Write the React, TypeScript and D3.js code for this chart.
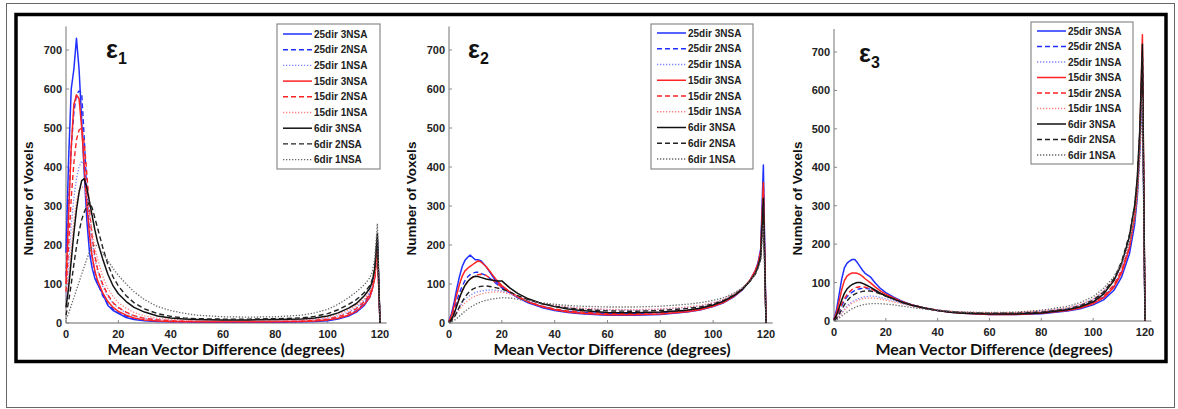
import React from "react";
import * as d3 from "d3";

// shared x sample positions (degrees)
const X = [0,1,2,3,4,5,6,7,8,9,10,11,12,14,16,18,20,23,26,30,35,40,45,50,60,70,80,90,95,100,104,108,111,114,116,117,118,119,120];

const seriesNames = ["25dir 3NSA","25dir 2NSA","25dir 1NSA","15dir 3NSA","15dir 2NSA","15dir 1NSA","6dir 3NSA","6dir 2NSA","6dir 1NSA"];
const yTicks = [0,100,200,300,400,500,600,700];
const xTicks = [0,20,40,60,80,100,120];
const panelLabels = ["1","2","3"];

// ε1
const e1_25_3 = [180,420,600,650,730,650,520,380,260,180,140,115,100,75,45,32,25,14,9,6,4,3,3,2,2,2,2,3,4,6,10,18,28,45,65,85,120,215,0];
const e1_25_2 = [120,300,450,540,585,595,590,470,330,230,170,130,105,70,48,35,26,17,11,7,5,4,3,3,3,3,3,4,5,8,12,20,32,50,70,90,125,205,0];
const e1_25_1 = [60,150,250,320,370,400,415,405,350,270,210,165,135,95,68,50,38,26,18,12,8,6,5,5,5,5,5,6,8,12,18,28,40,58,78,95,130,200,0];
const e1_15_3 = [100,280,450,560,585,575,500,400,300,225,170,135,110,78,55,40,30,20,13,8,5,4,3,3,3,3,3,4,5,8,12,20,30,48,65,85,115,190,0];
const e1_15_2 = [80,200,320,410,470,495,500,460,380,290,220,175,140,100,72,52,40,28,19,12,8,6,5,4,4,4,4,5,7,10,16,25,37,55,72,90,120,185,0];
const e1_15_1 = [40,110,190,260,310,340,350,345,320,280,235,195,165,120,88,68,52,38,27,18,12,9,7,6,6,6,6,8,10,15,22,33,45,62,80,95,125,180,0];
const e1_6_3 = [40,90,160,230,290,335,365,370,345,310,275,240,210,165,125,95,75,55,40,28,18,13,10,9,8,8,9,10,13,18,26,38,50,70,88,105,140,230,0];
const e1_6_2 = [20,55,100,150,195,235,265,285,300,310,295,270,245,195,150,118,95,70,52,36,24,17,13,11,10,10,11,13,17,24,34,48,60,78,95,110,140,220,0];
const e1_6_1 = [10,25,45,65,85,105,125,145,165,182,195,200,198,180,160,140,122,100,80,60,42,32,25,20,16,15,16,20,26,35,48,65,80,98,115,130,165,255,0];

// ε2
const e2_25_3 = [5,25,55,90,120,145,160,168,174,168,162,162,160,145,125,105,92,78,65,52,40,32,27,24,20,20,22,28,33,42,52,68,85,110,135,155,190,405,0];
const e2_25_2 = [3,15,35,58,78,95,108,118,124,128,130,130,128,122,112,100,90,78,66,54,43,35,30,27,24,24,26,31,36,45,55,70,86,110,133,150,180,360,0];
const e2_25_1 = [2,8,18,30,42,52,60,66,71,75,78,80,82,84,85,84,82,76,68,59,50,44,40,37,34,33,35,40,44,51,60,74,88,108,128,145,170,330,0];
const e2_15_3 = [4,20,45,75,100,120,133,140,145,150,155,159,157,145,128,110,96,80,67,54,42,34,28,25,21,21,23,29,34,43,53,69,86,110,135,152,185,360,0];
const e2_15_2 = [3,12,28,48,66,82,95,105,112,117,121,124,125,122,113,102,92,80,68,55,44,36,31,28,25,25,27,32,37,46,56,71,87,110,132,150,178,340,0];
const e2_15_1 = [2,7,15,25,35,44,51,57,62,66,69,72,74,77,79,80,79,75,68,60,51,45,41,38,35,34,36,41,45,52,61,75,89,108,128,143,168,310,0];
const e2_6_3 = [2,10,25,45,65,82,96,106,113,118,120,119,117,113,110,108,108,90,76,62,50,42,36,32,27,26,28,33,38,46,56,71,86,108,128,145,172,320,0];
const e2_6_2 = [1,6,15,28,42,55,66,75,82,87,90,92,94,95,93,90,87,80,70,60,50,43,38,35,31,30,32,37,41,49,58,72,87,108,126,142,165,300,0];
const e2_6_1 = [1,3,7,12,18,24,30,35,40,44,48,51,54,58,61,63,65,64,61,57,52,48,45,43,41,41,43,48,52,58,65,77,90,108,125,140,160,250,0];

// ε3
const e3_25_3 = [5,30,70,110,138,150,156,160,160,152,142,132,124,115,98,84,74,62,52,42,33,27,23,20,17,17,19,26,32,42,55,80,115,175,250,320,450,650,0];
const e3_25_2 = [2,10,25,40,53,63,70,75,79,82,84,85,85,83,78,72,66,58,50,42,34,28,24,21,19,19,22,29,36,47,62,90,128,190,265,335,460,680,0];
const e3_25_1 = [1,5,13,22,31,39,45,50,54,57,60,62,63,65,64,61,58,53,47,40,33,28,25,23,21,21,25,33,42,56,76,105,140,200,270,330,440,620,0];
const e3_15_3 = [4,22,52,82,105,117,122,125,125,124,121,116,110,100,88,78,70,60,51,42,33,27,23,20,17,17,20,27,34,45,60,88,125,190,270,345,480,745,0];
const e3_15_2 = [2,12,28,45,58,68,76,82,86,88,89,89,88,84,78,72,66,58,50,42,34,28,24,21,19,19,22,29,36,48,64,94,132,195,270,340,470,700,0];
const e3_15_1 = [1,5,12,20,28,35,41,46,50,53,56,58,59,60,59,57,54,50,45,39,33,28,25,23,21,22,26,34,43,57,78,108,142,200,265,325,430,600,0];
const e3_6_3 = [3,15,35,55,72,83,90,95,98,100,100,98,95,88,80,72,65,57,49,41,33,27,23,20,18,18,21,29,37,50,70,105,150,220,300,370,500,720,0];
const e3_6_2 = [1,7,18,30,42,52,60,66,70,73,75,77,78,78,75,70,65,58,50,42,34,28,24,22,20,20,23,31,40,54,75,110,155,225,300,365,490,690,0];
const e3_6_1 = [1,3,8,13,18,23,28,32,35,38,40,42,43,45,45,45,44,42,39,35,31,27,25,23,22,23,28,38,48,63,85,115,150,205,265,320,420,580,0];

const panelSeries = [
  [e1_25_3, e1_25_2, e1_25_1, e1_15_3, e1_15_2, e1_15_1, e1_6_3, e1_6_2, e1_6_1],
  [e2_25_3, e2_25_2, e2_25_1, e2_15_3, e2_15_2, e2_15_1, e2_6_3, e2_6_2, e2_6_1],
  [e3_25_3, e3_25_2, e3_25_1, e3_15_3, e3_15_2, e3_15_1, e3_6_3, e3_6_2, e3_6_1],
];

const BLUE = "#1f2fff";
const RED = "#ff2323";
const styles = [
  { c: BLUE, d: "none", w: 1.5 },
  { c: BLUE, d: "5,3", w: 1.4 },
  { c: "#7f86ff", d: "1.3,1.7", w: 1.3 },
  { c: RED, d: "none", w: 1.5 },
  { c: RED, d: "5,3", w: 1.4 },
  { c: "#ff8282", d: "1.3,1.7", w: 1.3 },
  { c: "#111", d: "none", w: 1.5 },
  { c: "#222", d: "5,3", w: 1.4 },
  { c: "#666", d: "1.3,1.7", w: 1.3 },
];

// layout of each panel (pixel geometry)
const layouts = [
  { x0: 66, x120: 380, y0: 323, y700: 50, lgX: 277, lgY: 24, lgW: 103, lgH: 145, row0: 34, rowH: 15.7, ex: 106, ey: 58, ylx: 33, xlx: 226 },
  { x0: 449, x120: 766, y0: 323, y700: 50, lgX: 651, lgY: 24, lgW: 102, lgH: 145, row0: 33, rowH: 15.75, ex: 468, ey: 58, ylx: 416, xlx: 612 },
  { x0: 834, x120: 1145, y0: 321, y700: 52, lgX: 1031, lgY: 22, lgW: 102, lgH: 142, row0: 31, rowH: 15.5, ex: 859, ey: 62, ylx: 802, xlx: 994 },
];

const ARIAL = "'Liberation Sans', Arial, sans-serif";

function Panel({ idx }: { idx: number }) {
  const L = layouts[idx];
  const x = d3.scaleLinear().domain([0, 120]).range([L.x0, L.x120]);
  const y = d3.scaleLinear().domain([0, 700]).range([L.y0, L.y700]);
  const xEnd = x(122.5);
  const yTop = y(760);
  const line = d3
    .line<number>()
    .x((_, i) => x(X[i]))
    .y((v) => y(v));
  return (
    <g>
      {/* axes */}
      <line x1={L.x0} x2={L.x0} y1={yTop} y2={L.y0} stroke="#8a8a8a" strokeWidth={1.2} />
      <line x1={L.x0} x2={xEnd} y1={L.y0} y2={L.y0} stroke="#666" strokeWidth={1.2} />
      {yTicks.map((t) => (
        <g key={"y" + t}>
          <line x1={L.x0} x2={L.x0 + 3} y1={y(t)} y2={y(t)} stroke="#888" />
          <text x={L.x0 - 4} y={y(t) + 4} textAnchor="end" fontFamily={ARIAL} fontSize={11} fontWeight="bold" fill="#222">
            {t}
          </text>
        </g>
      ))}
      {xTicks.map((t) => (
        <g key={"x" + t}>
          <line x1={x(t)} x2={x(t)} y1={L.y0} y2={L.y0 - 3} stroke="#888" />
          <text x={x(t)} y={L.y0 + 15} textAnchor="middle" fontFamily={ARIAL} fontSize={11} fontWeight="bold" fill="#222">
            {t}
          </text>
        </g>
      ))}
      {/* series */}
      {panelSeries[idx].map((s, i) => (
        <path
          key={i}
          d={line(s) || ""}
          fill="none"
          stroke={styles[i].c}
          strokeWidth={styles[i].w}
          strokeDasharray={styles[i].d}
          strokeLinejoin="round"
        />
      ))}
      {/* epsilon label */}
      <text x={L.ex} y={L.ey} fontFamily={ARIAL} fontSize={25} fontWeight="bold" fill="#111">
        ε
        <tspan fontSize={16} dy={6}>{panelLabels[idx]}</tspan>
      </text>
      {/* legend */}
      <rect x={L.lgX} y={L.lgY} width={L.lgW} height={L.lgH} fill="#fff" stroke="#8a8a8a" strokeWidth={1.2} />
      {seriesNames.map((n, i) => {
        const ry = L.row0 + i * L.rowH;
        return (
          <g key={n}>
            <line x1={L.lgX + 6} x2={L.lgX + 35} y1={ry} y2={ry} stroke={styles[i].c} strokeWidth={styles[i].w} strokeDasharray={styles[i].d} />
            <text x={L.lgX + 37} y={ry + 3.6} fontFamily={ARIAL} fontSize={10} fontWeight="bold" fill="#222">
              {n}
            </text>
          </g>
        );
      })}
      {/* axis labels */}
      <text
        transform={`translate(${L.ylx},${(y(0) + y(700)) / 2 + 12}) rotate(-90)`}
        textAnchor="middle"
        fontFamily={ARIAL}
        fontSize={13.5}
        fontWeight="bold"
        fill="#111"
      >
        Number of Voxels
      </text>
      <text x={L.xlx} y={355} textAnchor="middle" fontFamily="Lato, 'Open Sans', sans-serif" fontSize={16} fontWeight="bold" fill="#111">
        Mean Vector Difference (degrees)
      </text>
    </g>
  );
}

export default function App() {
  return (
    <svg width={1178} height={409} style={{ position: "absolute", left: 0, top: 0, background: "#fff" }}>
      <rect x={0} y={0} width={1178} height={409} fill="#fff" />
      <rect x={6.5} y={3.5} width={1168} height={404} fill="none" stroke="#666" strokeWidth={1} />
      <rect x={16} y={14.5} width={1150} height={347} fill="none" stroke="#000" strokeWidth={3.5} />
      {[0, 1, 2].map((i) => (
        <Panel key={i} idx={i} />
      ))}
    </svg>
  );
}
